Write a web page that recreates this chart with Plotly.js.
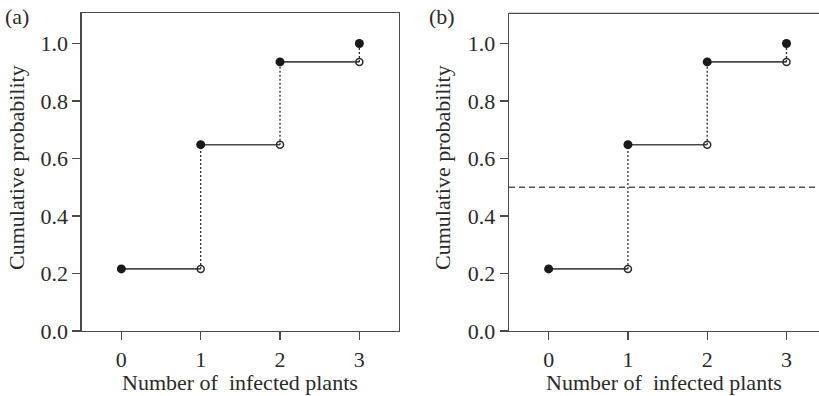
<!DOCTYPE html>
<html>
<head>
<meta charset="utf-8">
<script src="https://cdn.plot.ly/plotly-3.0.1.min.js"></script>
<style>html,body{margin:0;padding:0;background:#fff;overflow:hidden}</style>
</head>
<body>
<div id="chart" style="width:819px;height:396px"></div>
<script>
// Data
const counts = [0, 1, 2, 3];
const cumProb = [0.216, 0.648, 0.936, 1.0];
const yTicks = [0.0, 0.2, 0.4, 0.6, 0.8, 1.0];
const medianLevel = 0.5;
const xTitle = "Number of  infected plants";
const yTitle = "Cumulative probability";
const panelLabels = ["(a)", "(b)"];

const FONT = "Liberation Serif";
const INK = "#2a2a2a";
const LINE = "#4a4a4a";
const FS = 22;

function panelTraces(xa, ya) {
  const hx = [], hy = [], vx = [], vy = [], ox = [], oy = [];
  for (let i = 0; i < counts.length - 1; i++) {
    hx.push(counts[i], counts[i + 1], null);
    hy.push(cumProb[i], cumProb[i], null);
    vx.push(counts[i + 1], counts[i + 1], null);
    vy.push(cumProb[i], cumProb[i + 1], null);
    ox.push(counts[i + 1]);
    oy.push(cumProb[i]);
  }
  return [
    {x: hx, y: hy, xaxis: xa, yaxis: ya, mode: "lines", line: {color: LINE, width: 1.6}, hoverinfo: "skip", showlegend: false},
    {x: vx, y: vy, xaxis: xa, yaxis: ya, mode: "lines", line: {color: INK, width: 1.3, dash: "2px,2px"}, hoverinfo: "skip", showlegend: false},
    {x: ox, y: oy, xaxis: xa, yaxis: ya, mode: "markers", marker: {symbol: "circle-open", size: 7, color: INK, line: {width: 1.5, color: INK}}, showlegend: false},
    {x: counts, y: cumProb, xaxis: xa, yaxis: ya, mode: "markers", marker: {symbol: "circle", size: 9, color: "#1a1a1a"}, showlegend: false}
  ];
}

const traces = [...panelTraces("x", "y"), ...panelTraces("x2", "y2")];
traces.push({
  x: [-0.5, 3.6], y: [medianLevel, medianLevel], xaxis: "x2", yaxis: "y2",
  mode: "lines", line: {color: "#555", width: 1.3, dash: "6px,4px"}, hoverinfo: "skip", showlegend: false
});

const W = 819, H = 396;
const yDom = [1 - 331 / H, 1 - 13.3 / H];
function xAxis(domain, range) {
  return {
    domain: domain, range: range, tickvals: counts, ticktext: counts.map(String),
    ticks: "outside", ticklen: 8, tickwidth: 1.2, tickcolor: LINE,
    showline: true, linecolor: LINE, linewidth: 1.3, mirror: true,
    showgrid: false, zeroline: false, tickfont: {family: FONT, size: FS, color: INK}, fixedrange: true
  };
}
function yAxis(domain, anchor, mirror) {
  return {
    domain: domain, range: [0, 1.105], anchor: anchor, tickvals: yTicks, ticktext: yTicks.map(v => v.toFixed(1)),
    ticks: "outside", ticklen: 8, tickwidth: 1.2, tickcolor: LINE,
    showline: true, linecolor: LINE, linewidth: 1.3, mirror: mirror,
    showgrid: false, zeroline: false, tickfont: {family: FONT, size: FS, color: INK}, fixedrange: true
  };
}

const layout = {
  width: W, height: H,
  margin: {l: 0, r: 0, t: 0, b: 0},
  paper_bgcolor: "#fff", plot_bgcolor: "#fff",
  font: {family: FONT, size: FS, color: INK},
  showlegend: false,
  xaxis: Object.assign(xAxis([81.7 / W, 399 / W], [-0.5, 3.5]), {anchor: "y"}),
  yaxis: yAxis(yDom, "x", true),
  xaxis2: Object.assign(xAxis([509 / W, 1], [-0.5, 3.41]), {anchor: "y2", mirror: false}),
  yaxis2: yAxis(yDom, "x2", false),
  shapes: [
    {type: "line", xref: "paper", yref: "paper", x0: 509 / W, x1: 1, y0: yDom[1], y1: yDom[1], line: {color: LINE, width: 1.3}}
  ],
  annotations: [
    {text: panelLabels[0], xref: "paper", yref: "paper", x: 17 / W, y: 1 - 16 / H, showarrow: false, font: {family: FONT, size: FS, color: INK}, xanchor: "center", yanchor: "middle"},
    {text: panelLabels[1], xref: "paper", yref: "paper", x: 442 / W, y: 1 - 16 / H, showarrow: false, font: {family: FONT, size: FS, color: INK}, xanchor: "center", yanchor: "middle"},
    {text: xTitle, xref: "paper", yref: "paper", x: 240 / W, y: 1 - 382 / H, showarrow: false, font: {family: FONT, size: FS, color: INK}, xanchor: "center", yanchor: "middle"},
    {text: xTitle, xref: "paper", yref: "paper", x: 664 / W, y: 1 - 382 / H, showarrow: false, font: {family: FONT, size: FS, color: INK}, xanchor: "center", yanchor: "middle"},
    {text: yTitle, xref: "paper", yref: "paper", x: 16 / W, y: 1 - 168 / H, textangle: -90, showarrow: false, font: {family: FONT, size: FS, color: INK}, xanchor: "center", yanchor: "middle"},
    {text: yTitle, xref: "paper", yref: "paper", x: 442 / W, y: 1 - 168 / H, textangle: -90, showarrow: false, font: {family: FONT, size: FS, color: INK}, xanchor: "center", yanchor: "middle"}
  ]
};

Plotly.newPlot("chart", traces, layout, {staticPlot: true, displayModeBar: false});
</script>
</body>
</html>
